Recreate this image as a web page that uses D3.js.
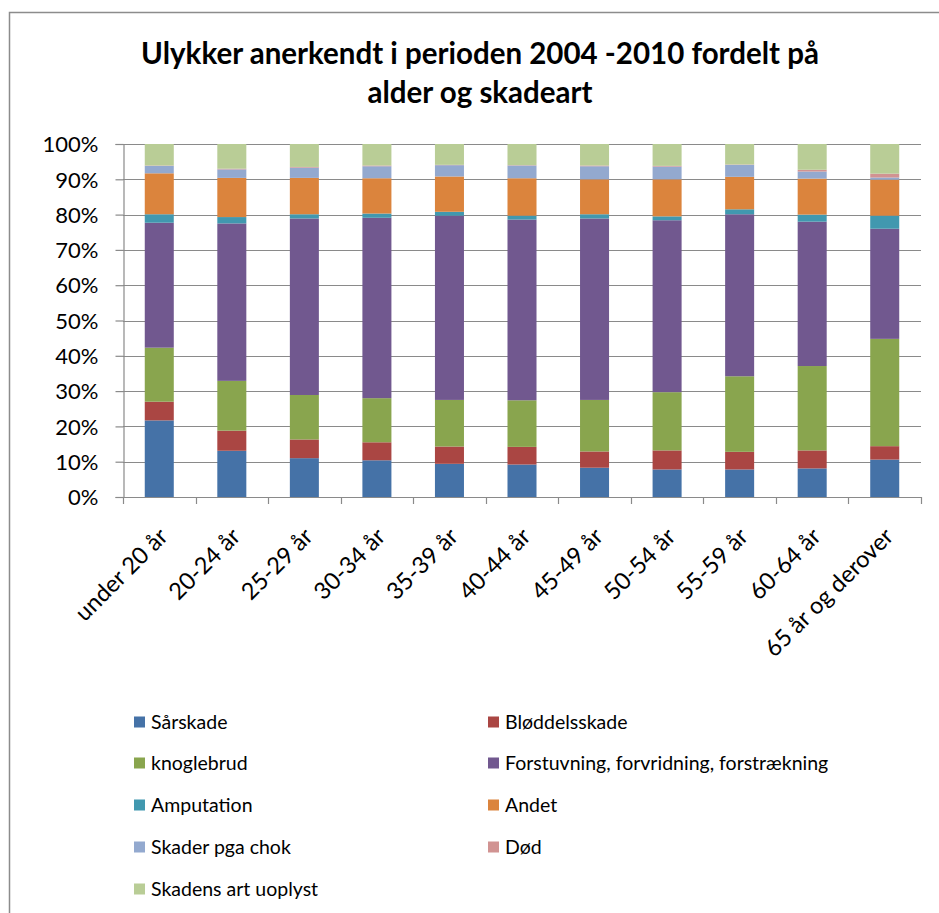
<!DOCTYPE html>
<html>
<head>
<meta charset="utf-8">
<script src="https://cdn.jsdelivr.net/npm/d3@7/dist/d3.min.js"></script>
<style>
  body { margin: 0; background: #fff; }
  svg text { font-family: Lato, "Open Sans", sans-serif; fill: #000; }
</style>
</head>
<body>
<svg id="chart"></svg>
<script>
// age groups (x axis)
const ageGroups = ['under 20 år', '20-24 år', '25-29 år', '30-34 år', '35-39 år', '40-44 år',
  '45-49 år', '50-54 år', '55-59 år', '60-64 år', '65 år og derover'];

// injury types, stacked bottom to top
const injuryTypes = ['Sårskade', 'Bløddelsskade', 'knoglebrud', 'Forstuvning, forvridning, forstrækning',
  'Amputation', 'Andet', 'Skader pga chok', 'Død', 'Skadens art uoplyst'];

const typeColors = ['#4572A7', '#AA4643', '#89A54E', '#71588F', '#4198AF', '#DB843D', '#93A9CF', '#D19392', '#B9CD96'];

// shares in percent per age group
const sarskade      = [21.7, 13.1, 11.0, 10.4, 9.4, 9.2, 8.3, 7.8, 7.8, 8.1, 10.6];
const bloddelsskade = [5.3, 5.7, 5.3, 5.1, 4.9, 5.0, 4.6, 5.4, 5.0, 5.1, 3.8];
const knoglebrud    = [15.3, 14.1, 12.6, 12.5, 13.2, 13.2, 14.6, 16.5, 21.4, 23.9, 30.4];
const forstuvning   = [35.4, 44.6, 50.0, 51.1, 52.2, 51.2, 51.4, 48.7, 45.9, 40.9, 31.2];
const amputation    = [2.4, 1.8, 1.2, 1.2, 1.1, 1.1, 1.2, 1.1, 1.4, 2.0, 3.7];
const andet         = [11.6, 11.1, 10.3, 10.0, 10.0, 10.6, 9.9, 10.5, 9.2, 10.2, 10.2];
const chok          = [2.1, 2.4, 2.9, 3.4, 3.2, 3.6, 3.7, 3.6, 3.4, 2.0, 0.6];
const dod           = [0.1, 0.2, 0.2, 0.2, 0.1, 0.1, 0.2, 0.2, 0.1, 0.5, 1.1];
const uoplyst       = [6.1, 7.0, 6.5, 6.1, 5.9, 6.0, 6.1, 6.2, 5.8, 7.3, 8.4];

const seriesValues = [sarskade, bloddelsskade, knoglebrud, forstuvning, amputation, andet, chok, dod, uoplyst];

const yTicks = [0, 0.1, 0.2, 0.3, 0.4, 0.5, 0.6, 0.7, 0.8, 0.9, 1];

const width = 939, height = 913;
const plot = { left: 123, right: 921, top: 144, bottom: 497 };

const svg = d3.select('#chart').attr('width', width).attr('height', height);

// outer chart frame (only top and left edges visible in the window)
svg.append('rect')
  .attr('x', 9.5).attr('y', 12.5)
  .attr('width', 960).attr('height', 960)
  .attr('fill', 'none').attr('stroke', '#8c8c8c').attr('stroke-width', 1.5);

// title
const title = svg.append('text')
  .attr('text-anchor', 'middle')
  .style('font-size', '29.5px').style('font-weight', 'bold');
title.append('tspan').attr('x', 480).attr('y', 64).text('Ulykker anerkendt i perioden 2004 -2010 fordelt på');
title.append('tspan').attr('x', 480).attr('y', 103).text('alder og skadeart');

// table for stacking
const rows = ageGroups.map((g, i) => {
  const row = { group: g };
  injuryTypes.forEach((t, k) => { row[t] = seriesValues[k][i] / 100; });
  return row;
});
const stacked = d3.stack().keys(injuryTypes).offset(d3.stackOffsetExpand)(rows);

const x = d3.scaleBand().domain(ageGroups).range([plot.left, plot.right]).paddingInner(0.6).paddingOuter(0.3);
const y = d3.scaleLinear().domain([0, 1]).range([plot.bottom, plot.top]);

// gridlines
svg.append('g')
  .selectAll('line')
  .data(yTicks.slice(1))
  .enter()
  .append('line')
  .attr('x1', plot.left).attr('x2', plot.right)
  .attr('y1', d => Math.round(y(d)) + 0.5).attr('y2', d => Math.round(y(d)) + 0.5)
  .attr('stroke', '#8a8a8a').attr('stroke-width', 1.2);

// y axis
const yAxis = svg.append('g')
  .attr('transform', `translate(${plot.left + 0.5},0)`)
  .call(d3.axisLeft(y).tickValues(yTicks).tickFormat(d3.format('.0%')).tickSize(8).tickPadding(17));
yAxis.selectAll('path, line').attr('stroke', '#8a8a8a').attr('stroke-width', 1.2);
yAxis.selectAll('text').style('font-size', '22px').attr('dy', '0.35em');

// bars
svg.append('g')
  .selectAll('g')
  .data(stacked)
  .enter()
  .append('g')
  .attr('fill', (d, i) => typeColors[i])
  .selectAll('rect')
  .data(d => d)
  .enter()
  .append('rect')
  .attr('x', d => x(d.data.group))
  .attr('width', x.bandwidth())
  .attr('y', d => y(d[1]))
  .attr('height', d => y(d[0]) - y(d[1]));

// x axis line with boundary ticks
const xAxis = svg.append('g');
xAxis.append('line')
  .attr('x1', plot.left).attr('x2', plot.right)
  .attr('y1', plot.bottom + 0.5).attr('y2', plot.bottom + 0.5)
  .attr('stroke', '#8a8a8a').attr('stroke-width', 1.2);
const bounds = d3.range(ageGroups.length + 1).map(i => plot.left + i * x.step());
xAxis.selectAll('.tick')
  .data(bounds)
  .enter()
  .append('line')
  .attr('x1', d => Math.round(d) + 0.5).attr('x2', d => Math.round(d) + 0.5)
  .attr('y1', plot.bottom).attr('y2', plot.bottom + 7)
  .attr('stroke', '#8a8a8a').attr('stroke-width', 1.2);

xAxis.selectAll('text')
  .data(ageGroups)
  .enter()
  .append('text')
  .attr('text-anchor', 'end')
  .attr('transform', d => `translate(${x(d) + x.bandwidth() / 2 + 10},${plot.bottom + 41}) rotate(-45)`)
  .style('font-size', '23.5px')
  .text(d => d);

// legend, two columns
const legendCols = [134, 488];
const legendRows = [722, 763, 805, 847, 889];
const legend = svg.append('g')
  .selectAll('g')
  .data(injuryTypes)
  .enter()
  .append('g')
  .attr('transform', (d, i) => `translate(${legendCols[i % 2]},${legendRows[Math.floor(i / 2)]})`);
legend.append('rect')
  .attr('x', 0).attr('y', -5.5)
  .attr('width', 11).attr('height', 11)
  .attr('fill', (d, i) => typeColors[i]);
legend.append('text')
  .attr('x', 17).attr('dy', '0.35em')
  .style('font-size', '19.5px')
  .text(d => d);
</script>
</body>
</html>
